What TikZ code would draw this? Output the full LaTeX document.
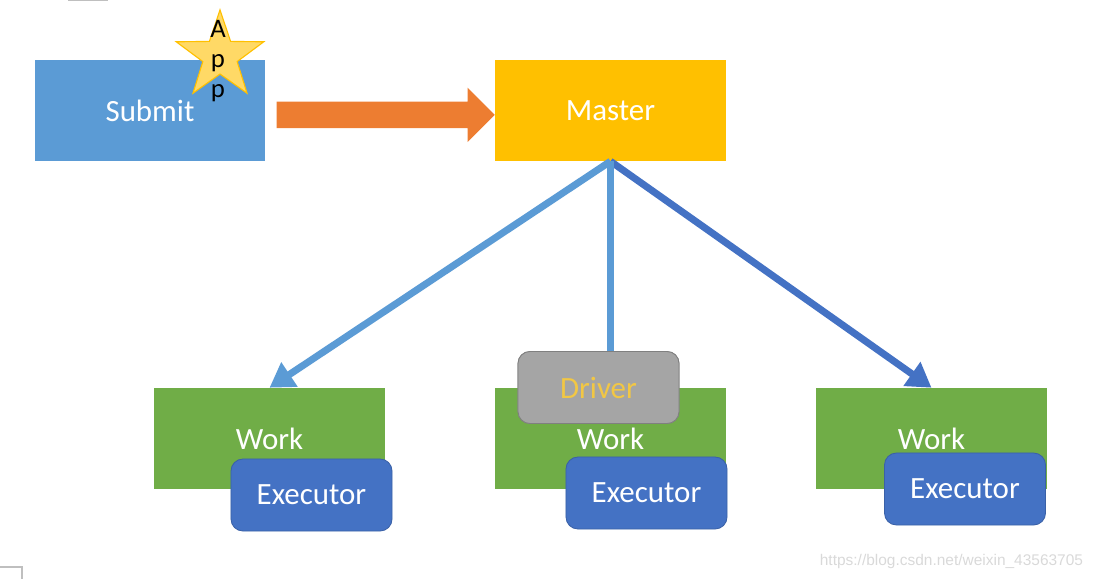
\documentclass[tikz,border=0pt]{standalone}
\usepackage{fontspec}
\setmainfont{Carlito}
\newfontfamily\urlfont{Liberation Sans}
\usetikzlibrary{arrows.meta, shapes.geometric, shapes.arrows}
\definecolor{submitblue}{HTML}{5B9BD5}
\definecolor{masteryellow}{HTML}{FFC000}
\definecolor{workgreen}{HTML}{70AD47}
\definecolor{execblue}{HTML}{4472C4}
\definecolor{drivergray}{HTML}{A5A5A5}
\definecolor{sendorange}{HTML}{ED7D31}
\definecolor{starfill}{HTML}{FFD966}
\definecolor{drivertext}{HTML}{F2C744}
\tikzset{
  box/.style = {minimum width=5.75cm, minimum height=2.525cm, inner sep=0pt,
    text=white, font=\fontsize{22}{26}\selectfont},
  rbox/.style = {rounded corners=0.3cm, minimum width=4.025cm, minimum height=1.8cm,
    inner sep=0pt, line width=0.6pt, font=\fontsize{22}{26}\selectfont},
  link/.style = {line width=5pt, -{Triangle[length=0.6cm, width=0.7cm]}}
}

\begin{document}
\begin{tikzpicture}[x=0.025cm, y=-0.025cm]
\useasboundingbox (0,0) rectangle (1096,579);
\draw[gray!50, line width=0.8pt] (68,0.5) -- (108,0.5);
\draw[gray!50, line width=0.8pt] (0,567) -- (22,567) -- (22,579);
\node[box, fill=submitblue] (submit) at (150,110.5) {Submit};
\node[star, star points=5, star point ratio=2.55, minimum size=2.3cm, inner sep=0pt,
  fill=starfill, draw=masteryellow, line width=0.8pt] (app) at (220,56) {};
\node[align=center, font=\fontsize{19}{21.5}\selectfont] (apptext) at (218,61) {A\\p\\p};
\node[box, fill=masteryellow] (master) at (610.5,110.5) {Master};
\node[single arrow, fill=sendorange, inner xsep=0pt, inner ysep=0.325cm,
  single arrow head extend=0.35cm, minimum height=5.45cm, anchor=tip] (send)
  at ([yshift=-0.11cm]master.west) {};
\node[box, fill=workgreen] (work1) at (269.5,438.5) {Work};
\node[box, fill=workgreen] (work2) at (610.5,438.5) {Work};
\node[box, fill=workgreen] (work3) at (931.5,438.5) {Work};
\draw[link, submitblue] (master.south) -- (work1.north);
\draw[link, execblue] (master.south) -- (work3.north);
\node[rbox, fill=drivergray, draw=gray, text=drivertext] (driver) at (598.5,387.5) {Driver};
\draw[submitblue, line width=5pt] (master.south) -- (master.south |- driver.north);
\node[rbox, fill=drivergray, draw=gray, text=drivertext] at (driver) {Driver};
\node[rbox, fill=execblue, draw=execblue!85!black, text=white] (exec1) at (311.5,495) {Executor};
\node[rbox, fill=execblue, draw=execblue!85!black, text=white] (exec2) at (646.5,493) {Executor};
\node[rbox, fill=execblue, draw=execblue!85!black, text=white] (exec3) at (965,489) {Executor};
\node[anchor=east, text=gray!30, font=\urlfont\fontsize{11}{13}\selectfont] (wm)
  at (1088,561) {https://blog.csdn.net/weixin\_43563705};
\end{tikzpicture}
\end{document}
